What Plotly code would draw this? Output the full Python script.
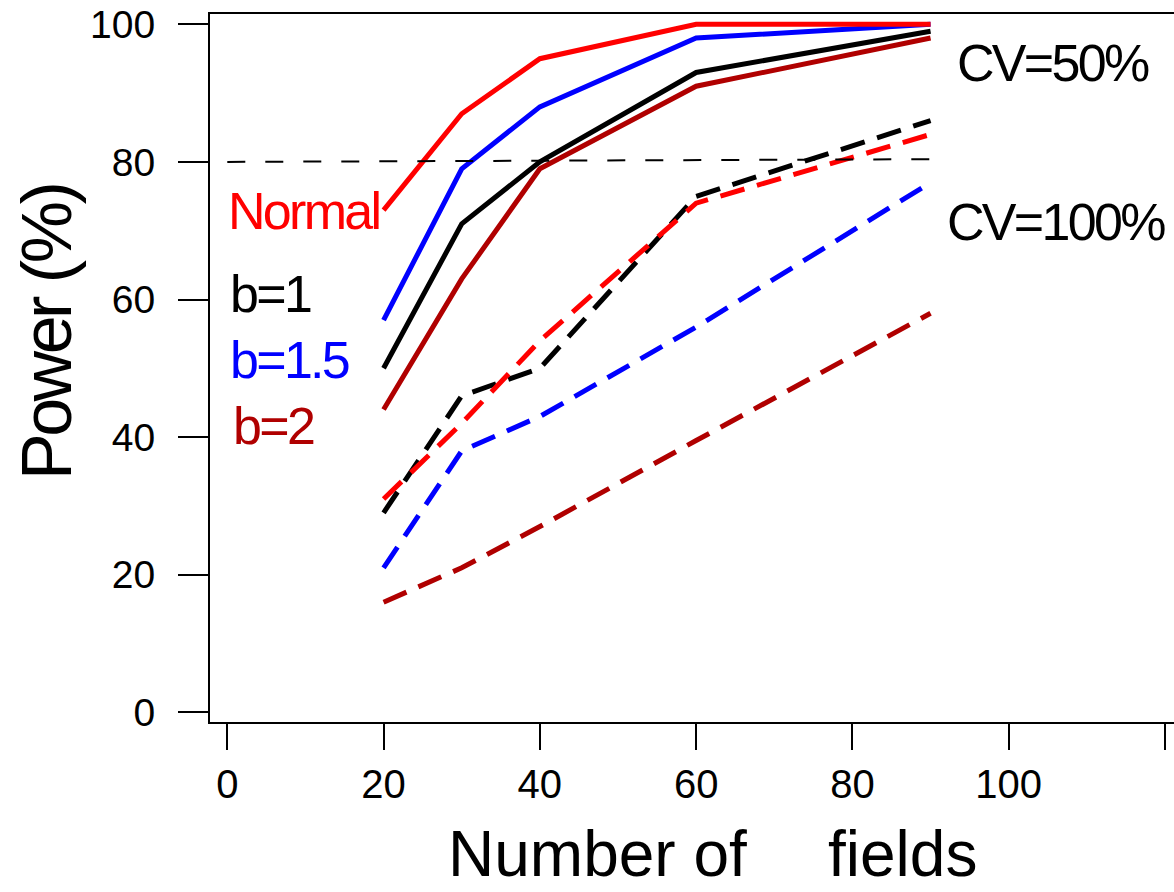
import plotly.graph_objects as go

# ---- data ----
fields = [20, 30, 40, 60, 90]

# CV = 50% (solid)
cv50_normal = [73, 87, 95, 100, 100]
cv50_b1 = [50, 71, 80, 93, 99]
cv50_b15 = [57, 79, 88, 98, 100]
cv50_b2 = [44, 63, 79, 91, 98]

# CV = 100% (dashed)
cv100_normal = [31, 42, 54, 74, 84]
cv100_b1 = [29, 46, 50, 75, 86]
cv100_b15 = [21, 38, 43, 56, 77]
cv100_b2 = [16, 21, 27, 39.5, 58]

thr_x = [0, 91.5]
thr_y = [80, 80.4]

x_ticks = [0, 20, 40, 60, 80, 100, 120]
x_ticklabels = ["0", "20", "40", "60", "80", "100", ""]
y_ticks = [0, 20, 40, 60, 80, 100]

RED = "#FF0000"
BLUE = "#0000FF"
BLACK = "#000000"
DARKRED = "#B00000"
FONT = "Liberation Sans, Arial, sans-serif"

L, T, W, H = 210, 14, 1174, 892
B = 892 - 722

fig = go.Figure()

def add(y, color, dashed):
    fig.add_trace(go.Scatter(
        x=fields, y=y, mode="lines",
        line=dict(color=color, width=5,
                  dash="25px,13px" if dashed else "solid"),
        showlegend=False, hoverinfo="skip"))

add(cv100_b2, DARKRED, True)
add(cv100_b15, BLUE, True)
add(cv100_b1, BLACK, True)
add(cv100_normal, RED, True)
add(cv50_b2, DARKRED, False)
add(cv50_b1, BLACK, False)
add(cv50_b15, BLUE, False)
add(cv50_normal, RED, False)

fig.add_trace(go.Scatter(x=thr_x, y=thr_y, mode="lines",
                         line=dict(color=BLACK, width=2, dash="18px,20px"),
                         showlegend=False, hoverinfo="skip"))

def sp(t, ls):
    if ls == 0:
        return t
    return f'<span style="letter-spacing:{ls}px">{t}</span>'

def px2paper(px, py):
    return (px - L) / (W - L), (H - B - py) / (H - B - T)

def ann(text, px, py, color, size=52, ls=-2.7, anchor="left", angle=0):
    x, y = px2paper(px, py)
    fig.add_annotation(x=x, y=y, xref="paper", yref="paper", text=sp(text, ls),
                       showarrow=False, xanchor=anchor, yanchor="middle",
                       textangle=angle,
                       font=dict(family=FONT, size=size, color=color))

ann("Normal", 226, 211, RED)
ann("b=1", 228, 294, BLACK)
ann("b=1.5", 228, 360, BLUE)
ann("b=2", 231, 426, DARKRED)
ann("CV=50%", 955, 63, BLACK)
ann("CV=100%", 945, 222, BLACK)

ann("Power (%)", 47, 333, BLACK, size=70, ls=-3.5, anchor="center", angle=-90)
ann("Number of", 597, 854, BLACK, size=64, ls=0, anchor="center")
ann("fields", 902, 854, BLACK, size=64, ls=0, anchor="center")

fig.update_layout(
    width=W, height=H,
    margin=dict(l=L, r=0, t=T, b=B),
    paper_bgcolor="white", plot_bgcolor="white",
    font=dict(family=FONT, color=BLACK),
)
fig.update_xaxes(range=[(210 - 227.3) / 7.814, (1174 - 227.3) / 7.814],
                 showgrid=False, zeroline=False,
                 showline=True, linecolor=BLACK, linewidth=2, mirror=True,
                 ticks="outside", ticklen=26, tickwidth=2, tickcolor=BLACK,
                 tickvals=x_ticks, ticktext=x_ticklabels,
                 tickfont=dict(family=FONT, size=40, color=BLACK))
fig.update_yaxes(range=[(712.3 - 722) / 6.88, (712.3 - 14) / 6.88],
                 showgrid=False, zeroline=False,
                 showline=True, linecolor=BLACK, linewidth=2, mirror=False,
                 ticks="outside", ticklen=30, tickwidth=2, tickcolor=BLACK,
                 tickvals=y_ticks, ticklabelstandoff=15,
                 tickfont=dict(family=FONT, size=39, color=BLACK))

fig.write_html("out.html", config={"displayModeBar": False},
               post_script="document.body.style.margin='0';document.body.style.overflow='hidden';")
